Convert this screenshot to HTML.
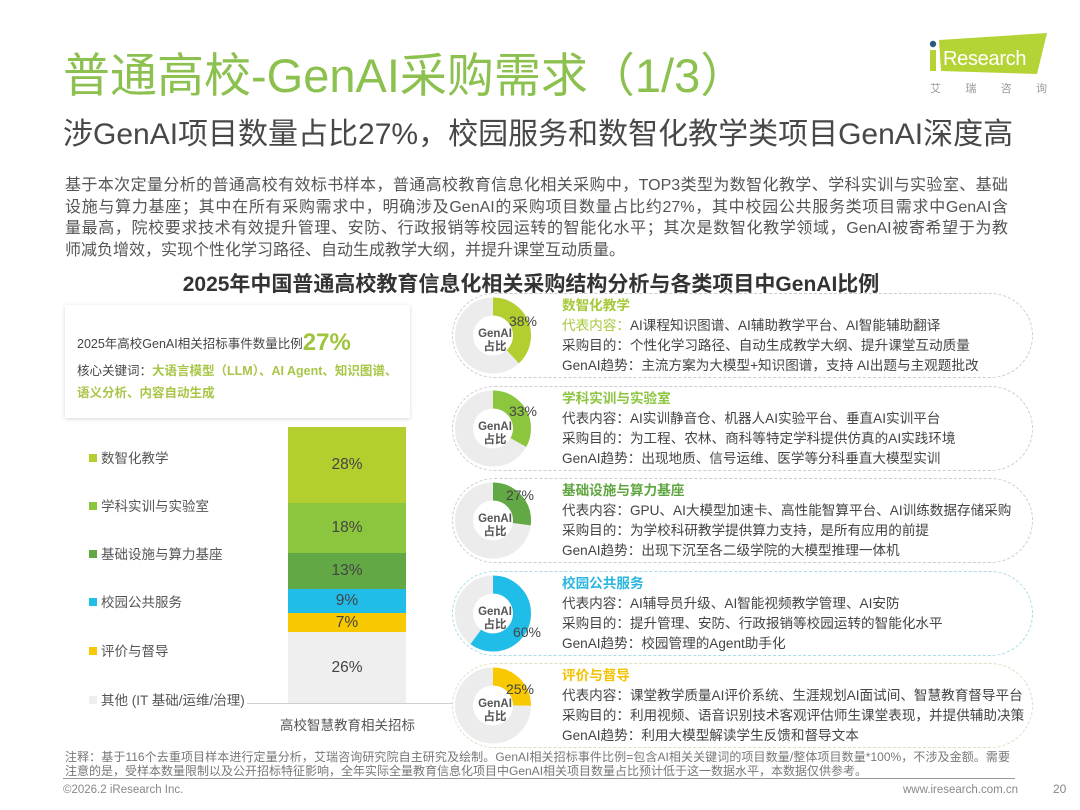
<!DOCTYPE html>
<html><head><meta charset="utf-8"><style>
*{margin:0;padding:0;box-sizing:border-box}
body{width:1080px;height:810px;position:relative;overflow:hidden;background:#fff;font-family:"Liberation Sans","Noto Sans CJK SC",sans-serif;color:#444}
.a{position:absolute;white-space:nowrap}
.j{text-align:justify;text-align-last:justify}
.card{position:absolute;left:452px;width:581px;height:85px;border:1px dashed #cdcdcd;border-radius:43px;background:#fff}
.ct{position:absolute;left:562px;font-size:13.6px;line-height:20px;color:#444;white-space:nowrap}
.ct b{display:block;font-weight:bold}
.lg{position:absolute;left:89px;font-size:13.5px;color:#555;line-height:16px;white-space:nowrap}
.lg i{display:inline-block;width:8px;height:8px;margin-right:4px;vertical-align:1px}
.seg{position:absolute;left:288px;width:118px;display:flex;align-items:center;justify-content:center;font-size:15.5px;color:#444}
</style></head><body>

<!-- Title -->
<div class="a" style="left:63px;top:51px;font-size:47px;line-height:50px;color:#8cc04f">普通高校-GenAI采购需求（1/3）</div>
<div class="a" style="left:63px;top:119px;font-size:30px;line-height:32px;color:#484848">涉GenAI项目数量占比27%，校园服务和数智化教学类项目GenAI深度高</div>

<!-- Logo -->
<svg class="a" style="left:0;top:0" width="1080" height="100">
<polygon points="939,40 1047,33 1037,74 941,71" fill="#b4d335"/>
<rect x="930" y="50" width="6" height="21" fill="#b4d335"/>
<circle cx="933" cy="44" r="3.2" fill="#2b5b86"/>
<text x="943" y="65" font-family="Liberation Sans" font-size="20" letter-spacing="-0.3" fill="#fff">Research</text>
</svg>
<div class="a" style="left:930px;top:81px;width:117px;display:flex;justify-content:space-between;font-size:11px;line-height:16px;color:#999"><span>艾</span><span>瑞</span><span>咨</span><span>询</span></div>

<!-- Body paragraph -->
<div class="a" style="left:65px;top:175px;font-size:16px;line-height:21.7px;color:#555;width:943px">
<div class="j">基于本次定量分析的普通高校有效标书样本，普通高校教育信息化相关采购中，TOP3类型为数智化教学、学科实训与实验室、基础</div>
<div class="j">设施与算力基座；其中在所有采购需求中，明确涉及GenAI的采购项目数量占比约27%，其中校园公共服务类项目需求中GenAI含</div>
<div class="j">量最高，院校要求技术有效提升管理、安防、行政报销等校园运转的智能化水平；其次是数智化教学领域，GenAI被寄希望于为教</div>
<div>师减负增效，实现个性化学习路径、自动生成教学大纲，并提升课堂互动质量。</div>
</div>

<!-- Chart title -->
<div class="a" style="left:0;width:1062px;text-align:center;top:272px;font-size:21px;line-height:26px;font-weight:bold;color:#333">2025年中国普通高校教育信息化相关采购结构分析与各类项目中GenAI比例</div>

<!-- Left summary box -->
<div class="a" style="left:65px;top:305px;width:345px;height:113px;background:#fff;box-shadow:0 1px 4px rgba(0,0,0,.16)"></div>
<div class="a" style="left:77px;top:330px;font-size:12.5px;line-height:26px;color:#444">2025年高校GenAI相关招标事件数量比例<span style="font-size:24px;font-weight:bold;color:#9fc43e;vertical-align:-2px">27%</span></div>
<div class="a" style="left:77px;top:360px;font-size:12.5px;line-height:22px;color:#444">核心关键词：<b style="color:#a8c648">大语言模型（LLM）、AI Agent、知识图谱、</b><br><b style="color:#a8c648">语义分析、内容自动生成</b></div>

<!-- Legend -->
<div class="lg" style="top:451px"><i style="background:#b2ce2f"></i>数智化教学</div>
<div class="lg" style="top:499px"><i style="background:#8cc63f"></i>学科实训与实验室</div>
<div class="lg" style="top:547px"><i style="background:#62a845"></i>基础设施与算力基座</div>
<div class="lg" style="top:595px"><i style="background:#20bde9"></i>校园公共服务</div>
<div class="lg" style="top:644px"><i style="background:#f8c800"></i>评价与督导</div>
<div class="lg" style="top:693px"><i style="background:#efefef"></i>其他 (IT 基础/运维/治理)</div>

<!-- Stacked bar -->
<div class="seg" style="top:427px;height:76px;background:#b2ce2f">28%</div>
<div class="seg" style="top:503px;height:50px;background:#8cc63f">18%</div>
<div class="seg" style="top:553px;height:36px;background:#62a845">13%</div>
<div class="seg" style="top:589px;height:24px;background:#20bde9">9%</div>
<div class="seg" style="top:613px;height:19px;background:#f8c800">7%</div>
<div class="seg" style="top:632px;height:71px;background:#efefef">26%</div>
<div class="a" style="left:247px;top:703px;width:208px;height:1px;background:#cfcfcf"></div>
<div class="a" style="left:280px;top:717px;font-size:13.5px;line-height:18px;color:#555">高校智慧教育相关招标</div>

<!-- Cards -->
<div class="card" style="top:293px"></div>
<div class="card" style="top:386px"></div>
<div class="card" style="top:478px"></div>
<div class="card" style="top:571px;border-color:#a9dcec"></div>
<div class="card" style="top:663px;border-color:#e3dcc0"></div>

<div class="ct" style="top:296px"><b style="color:#a6c83a">数智化教学</b><span style="color:#a6c83a">代表内容：</span>AI课程知识图谱、AI辅助教学平台、AI智能辅助翻译<br>采购目的：个性化学习路径、自动生成教学大纲、提升课堂互动质量<br>GenAI趋势：主流方案为大模型+知识图谱，支持 AI出题与主观题批改</div>
<div class="ct" style="top:389px"><b style="color:#8cc63f">学科实训与实验室</b>代表内容：AI实训静音仓、机器人AI实验平台、垂直AI实训平台<br>采购目的：为工程、农林、商科等特定学科提供仿真的AI实践环境<br>GenAI趋势：出现地质、信号运维、医学等分科垂直大模型实训</div>
<div class="ct" style="top:481px"><b style="color:#5fa640">基础设施与算力基座</b>代表内容：GPU、AI大模型加速卡、高性能智算平台、AI训练数据存储采购<br>采购目的：为学校科研教学提供算力支持，是所有应用的前提<br>GenAI趋势：出现下沉至各二级学院的大模型推理一体机</div>
<div class="ct" style="top:574px"><b style="color:#2ab6df">校园公共服务</b>代表内容：AI辅导员升级、AI智能视频教学管理、AI安防<br>采购目的：提升管理、安防、行政报销等校园运转的智能化水平<br>GenAI趋势：校园管理的Agent助手化</div>
<div class="ct" style="top:666px"><b style="color:#f2c200">评价与督导</b>代表内容：课堂教学质量AI评价系统、生涯规划AI面试间、智慧教育督导平台<br>采购目的：利用视频、语音识别技术客观评估师生课堂表现，并提供辅助决策<br>GenAI趋势：利用大模型解读学生反馈和督导文本</div>

<!-- Donuts -->
<svg class="a" style="left:0;top:0" width="1080" height="810" font-family="Liberation Sans, Noto Sans CJK SC, sans-serif">
<g fill="none" stroke-width="18">
<circle cx="493" cy="335.5" r="29" stroke="#ececec"/>
<circle cx="493" cy="335.5" r="29" stroke="#b2ce2f" stroke-dasharray="69.24 200" transform="rotate(-90 493 335.5)"/>
<circle cx="493" cy="428.5" r="29" stroke="#ececec"/>
<circle cx="493" cy="428.5" r="29" stroke="#8cc63f" stroke-dasharray="60.13 200" transform="rotate(-90 493 428.5)"/>
<circle cx="493" cy="520.5" r="29" stroke="#ececec"/>
<circle cx="493" cy="520.5" r="29" stroke="#62a845" stroke-dasharray="49.20 200" transform="rotate(-90 493 520.5)"/>
<circle cx="493" cy="613.5" r="29" stroke="#ececec"/>
<circle cx="493" cy="613.5" r="29" stroke="#20bde9" stroke-dasharray="109.33 200" transform="rotate(-90 493 613.5)"/>
<circle cx="493" cy="705.5" r="29" stroke="#ececec"/>
<circle cx="493" cy="705.5" r="29" stroke="#f8c800" stroke-dasharray="45.55 200" transform="rotate(-90 493 705.5)"/>
</g>
<g font-size="11.5" font-weight="bold" fill="#555" text-anchor="middle">
<text x="495" y="337">GenAI</text><text x="495" y="350">占比</text>
<text x="495" y="430">GenAI</text><text x="495" y="443">占比</text>
<text x="495" y="522">GenAI</text><text x="495" y="535">占比</text>
<text x="495" y="615">GenAI</text><text x="495" y="628">占比</text>
<text x="495" y="707">GenAI</text><text x="495" y="720">占比</text>
</g>
<g font-size="14" fill="#444" text-anchor="middle">
<text x="523" y="326">38%</text>
<text x="523" y="416">33%</text>
<text x="520" y="500">27%</text>
<text x="527" y="637">60%</text>
<text x="520" y="694">25%</text>
</g>
</svg>

<!-- Notes -->
<div class="a" style="left:65px;top:750px;font-size:12px;line-height:14px;color:#777;width:945px">
<div class="j">注释：基于116个去重项目样本进行定量分析，艾瑞咨询研究院自主研究及绘制。GenAI相关招标事件比例=包含AI相关关键词的项目数量/整体项目数量*100%，不涉及金额。需要</div>
<div>注意的是，受样本数量限制以及公开招标特征影响，全年实际全量教育信息化项目中GenAI相关项目数量占比预计低于这一数据水平，本数据仅供参考。</div>
</div>
<div class="a" style="left:63px;top:778px;width:952px;height:1px;background:#999"></div>
<div class="a" style="left:63px;top:782px;font-size:11.5px;line-height:16px;color:#888">©2026.2 iResearch Inc.</div>
<div class="a" style="left:903px;top:782px;font-size:11.5px;line-height:16px;color:#888">www.iresearch.com.cn</div>
<div class="a" style="left:1053px;top:781px;font-size:12px;line-height:16px;color:#888">20</div>
</body></html>
